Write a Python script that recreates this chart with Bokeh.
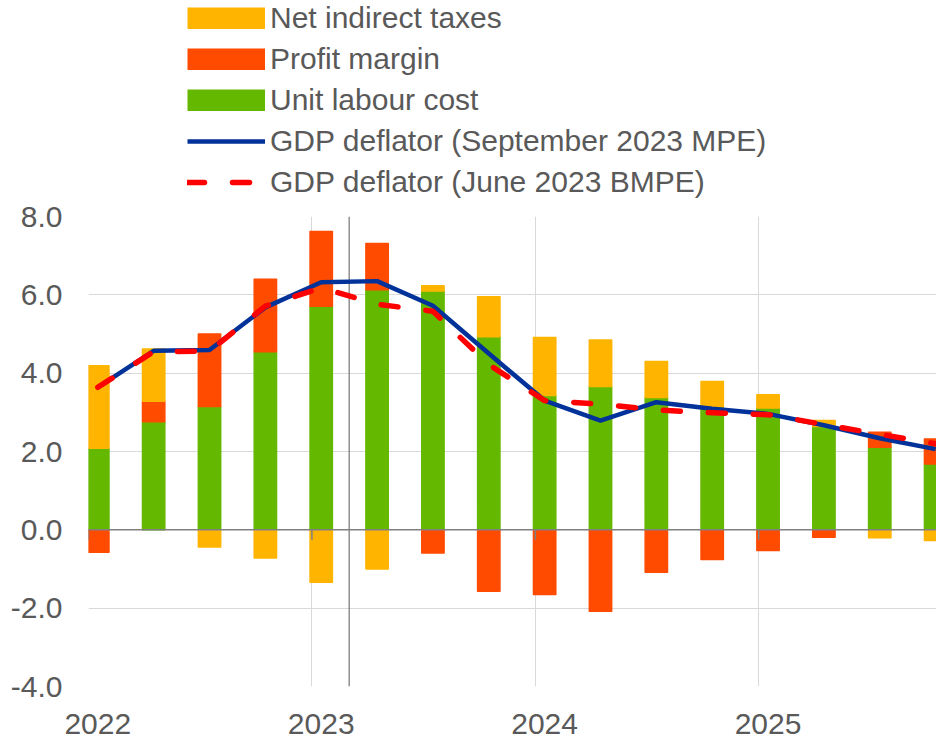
import numpy as np
from bokeh.plotting import figure
from bokeh.layouts import column
from bokeh.models import (ColumnDataSource, Legend, LegendItem, FixedTicker, Span,
                          CustomJSTickFormatter, NumeralTickFormatter, Range1d)
from bokeh.embed import file_html
from bokeh.resources import INLINE

# ---------------- data ----------------
quarters = ["2022Q1", "2022Q2", "2022Q3", "2022Q4",
            "2023Q1", "2023Q2", "2023Q3", "2023Q4",
            "2024Q1", "2024Q2", "2024Q3", "2024Q4",
            "2025Q1", "2025Q2", "2025Q3", "2025Q4"]
unit_labour_cost = [2.08, 2.76, 3.15, 4.55, 5.71, 6.13, 6.10, 4.93,
                    3.43, 3.66, 3.38, 3.14, 3.11, 2.64, 2.11, 1.68]
profit_margin = [-0.57, 0.52, 1.85, 1.85, 1.91, 1.18, -0.59, -1.57,
                 -1.65, -2.08, -1.08, -0.76, -0.53, -0.19, 0.38, 0.64]
net_indirect_taxes = [2.11, 1.34, -0.44, -0.72, -1.34, -1.00, 0.13, 1.02,
                      1.48, 1.19, 0.92, 0.65, 0.34, 0.15, -0.20, -0.27]
gdp_deflator_sep2023 = [3.64, 4.57, 4.59, 5.68, 6.32, 6.35, 5.72, 4.50,
                        3.30, 2.79, 3.26, 3.09, 2.96, 2.67, 2.34, 2.06]
gdp_deflator_jun2023 = [3.64, 4.55, 4.56, 5.71, 6.18, 5.76, 5.58, 4.22,
                        3.30, 3.21, 3.06, 2.99, 2.94, 2.69, 2.44, 2.20]
year_labels = ["2022", "2023", "2024", "2025"]
last_actual_quarter = "2023Q1"
y_ticks = [-4, -2, 0, 2, 4, 6, 8]

# ---------------- positions (mid of first month of each quarter) ----------------
def qpos(q):
    return int(q[:4]) + (int(q[-1]) - 1) / 4 + 1 / 24

x = np.array([qpos(q) for q in quarters])
years = [int(y) for y in year_labels]

# stacking (positives upward, negatives downward)
pos_base = np.zeros(len(x))
neg_base = np.zeros(len(x))
stacks = {}
for name, vals in [("ulc", unit_labour_cost), ("pm", profit_margin), ("nit", net_indirect_taxes)]:
    v = np.array(vals)
    bottom = np.where(v >= 0, pos_base, neg_base + v)
    top = np.where(v >= 0, pos_base + v, neg_base)
    pos_base = np.where(v >= 0, pos_base + v, pos_base)
    neg_base = np.where(v < 0, neg_base + v, neg_base)
    stacks[name] = ColumnDataSource(dict(x=x, bottom=bottom, top=top))
line_src = ColumnDataSource(dict(x=x, sep=gdp_deflator_sep2023, jun=gdp_deflator_jun2023))

TXT = "#595959"
FONT = "Liberation Sans"
colors = {"nit": "#FFB400", "pm": "#FF4B00", "ulc": "#65B800"}
BLUE = "#003299"
RED = "#FF0000"
DASH = "17 28"

W = 936
LEG_H = 200
LEFT = 88

# ---------------- main chart ----------------
p = figure(width=W, height=741 - LEG_H, output_backend="svg", toolbar_location=None,
           x_range=Range1d(years[0], x[-1] + 0.004), y_range=Range1d(-4, 8),
           min_border_left=LEFT, min_border_right=0, min_border_top=16, min_border_bottom=55)
p.outline_line_color = None

p.xgrid.ticker = FixedTicker(ticks=years)
p.ygrid.ticker = FixedTicker(ticks=y_ticks)
p.xgrid.grid_line_color = "#d9d9d9"
p.ygrid.grid_line_color = "#d9d9d9"

p.xaxis.ticker = FixedTicker(ticks=[y + 1 / 24 for y in years])
p.xaxis.formatter = CustomJSTickFormatter(code="return Math.floor(tick).toString();")
p.yaxis.ticker = FixedTicker(ticks=y_ticks)
p.yaxis.formatter = NumeralTickFormatter(format="0.0")
for ax in (p.xaxis[0], p.yaxis[0]):
    ax.axis_line_color = None
    ax.major_tick_line_color = None
    ax.minor_tick_line_color = None
    ax.major_tick_out = 0
    ax.major_tick_in = 0
    ax.major_label_text_font = FONT
    ax.major_label_text_font_size = "30px"
    ax.major_label_text_color = TXT
p.xaxis.major_label_standoff = 27
p.yaxis.major_label_standoff = 26

cut = Span(location=qpos(last_actual_quarter) + 0.125, dimension="height",
           line_color="#595959", line_width=1, level="underlay")
p.add_layout(cut)

bw = 0.1
for name in ["ulc", "pm", "nit"]:
    p.vbar(x="x", bottom="bottom", top="top", width=bw, source=stacks[name],
           fill_color=colors[name], line_color=colors[name], line_width=1.5, line_join="round")

zero = Span(location=0, dimension="width", line_color="#808080", line_width=1.5)
p.add_layout(zero)
p.segment(x0=years, x1=years, y0=[0] * len(years), y1=[-0.25] * len(years),
          line_color="#808080", line_width=1.5)

p.line("x", "sep", source=line_src, line_color=BLUE, line_width=4.5, line_join="round")
p.line("x", "jun", source=line_src, line_color=RED, line_width=5.5,
       line_dash=DASH, line_cap="round", line_join="round")

# ---------------- legend panel (same sources; data lie outside its range) ----------------
lg = figure(width=W, height=LEG_H, output_backend="svg", toolbar_location=None,
            x_range=Range1d(0, 1), y_range=Range1d(0, 1),
            x_axis_location=None, y_axis_location=None,
            min_border_left=LEFT, min_border_right=0, min_border_top=0, min_border_bottom=0)
lg.outline_line_color = None
lg.xgrid.visible = False
lg.ygrid.visible = False
lr = {}
for name in ["nit", "pm", "ulc"]:
    # thick butt-capped line gives a full 78x22 colour patch in the legend
    lr[name] = lg.line("x", "top", source=stacks[name], line_color=colors[name],
                       line_width=22, line_cap="butt")
l_sep = lg.line("x", "sep", source=line_src, line_color=BLUE, line_width=4.5)
l_jun = lg.line("x", "jun", source=line_src, line_color=RED, line_width=5.5,
                line_dash=DASH, line_cap="round")

legend = Legend(items=[
    LegendItem(label="Net indirect taxes", renderers=[lr["nit"]]),
    LegendItem(label="Profit margin", renderers=[lr["pm"]]),
    LegendItem(label="Unit labour cost", renderers=[lr["ulc"]]),
    LegendItem(label="GDP deflator (September 2023 MPE)", renderers=[l_sep]),
    LegendItem(label="GDP deflator (June 2023 BMPE)", renderers=[l_jun]),
], location=(187 - LEFT, 1.5))
legend.border_line_color = None
legend.background_fill_alpha = 0
legend.padding = 0
legend.margin = 0
legend.spacing = 7
legend.label_height = 34
legend.glyph_width = 78
legend.glyph_height = 22
legend.label_standoff = 5
legend.label_text_font = FONT
legend.label_text_font_size = "30px"
legend.label_text_color = TXT
lg.add_layout(legend, "center")

layout = column(lg, p, spacing=0)
open("out.html", "w").write(file_html(layout, INLINE))
